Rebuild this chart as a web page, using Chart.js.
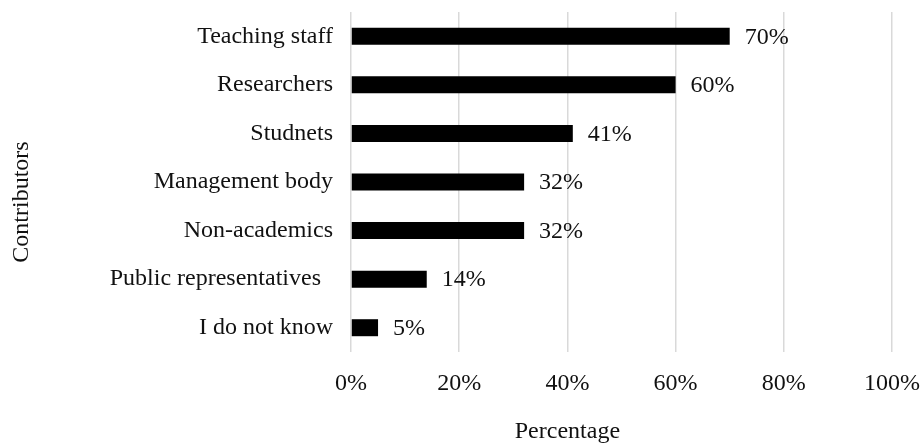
<!DOCTYPE html>
<html lang="en">
<head>
    <meta charset="UTF-8">
    <title>Contributors</title>
    <script src="https://cdn.jsdelivr.net/npm/chart.js"></script>
    <style>
        html, body { margin: 0; padding: 0; background: #fff; }
        .wrap { width: 922px; height: 444px; }
    </style>
</head>
<body>
    <div class="wrap"><canvas id="chart" width="922" height="444"></canvas></div>

    <script>
        const categories = ['Teaching staff', 'Researchers', 'Studnets', 'Management body',
                            'Non-academics', 'Public representatives  ', 'I do not know'];
        const percentages = [70, 60, 41, 32, 32, 14, 5];
        const tickValues = [0, 20, 40, 60, 80, 100];

        const FONT = '"Liberation Serif", "Times New Roman", serif';
        const FONT_SIZE = 24;

        // value labels at the end of each bar, plus the two axis titles
        const extras = {
            id: 'extras',
            afterDatasetsDraw(chart) {
                const ctx = chart.ctx;
                const meta = chart.getDatasetMeta(0);
                ctx.save();
                ctx.font = FONT_SIZE + 'px ' + FONT;
                ctx.fillStyle = '#111';
                ctx.textAlign = 'left';
                ctx.textBaseline = 'middle';
                meta.data.forEach((bar, i) => {
                    ctx.fillText(percentages[i] + '%', bar.x + 15, bar.y + 1);
                });

                const area = chart.chartArea;
                ctx.textAlign = 'center';
                ctx.fillText('Percentage', area.left + (area.right - area.left) * 0.4, chart.height - 12);

                ctx.translate(22, (area.top + area.bottom) / 2 + 20);
                ctx.rotate(-Math.PI / 2);
                ctx.fillText('Contributors', 0, 0);
                ctx.restore();
            }
        };

        new Chart(document.getElementById('chart'), {
            type: 'bar',
            data: {
                labels: categories,
                datasets: [{
                    data: percentages,
                    backgroundColor: '#000',
                    borderWidth: 0,
                    categoryPercentage: 1,
                    barPercentage: 0.35
                }]
            },
            options: {
                indexAxis: 'y',
                responsive: false,
                animation: false,
                layout: { padding: { top: 12, right: 30, bottom: 0, left: 0 } },
                plugins: { legend: { display: false }, tooltip: { enabled: false } },
                scales: {
                    x: {
                        min: 0,
                        max: 100,
                        afterBuildTicks(scale) {
                            scale.ticks = tickValues.map(v => ({ value: v }));
                        },
                        afterFit(scale) {
                            scale.height = 92;
                            scale.paddingLeft = 0;
                            scale.paddingRight = 0;
                        },
                        grid: { color: '#d9d9d9', lineWidth: 1.5, drawTicks: false },
                        border: { display: false },
                        ticks: {
                            padding: 17,
                            color: '#111',
                            font: { family: FONT, size: FONT_SIZE },
                            callback: v => v + '%'
                        }
                    },
                    y: {
                        afterFit(scale) {
                            scale.width = 351;
                            scale.paddingTop = 0;
                            scale.paddingBottom = 0;
                        },
                        grid: { display: false, drawTicks: false },
                        border: { display: false },
                        ticks: {
                            padding: 18,
                            color: '#111',
                            font: { family: FONT, size: FONT_SIZE }
                        }
                    }
                }
            },
            plugins: [extras]
        });
    </script>
</body>
</html>
